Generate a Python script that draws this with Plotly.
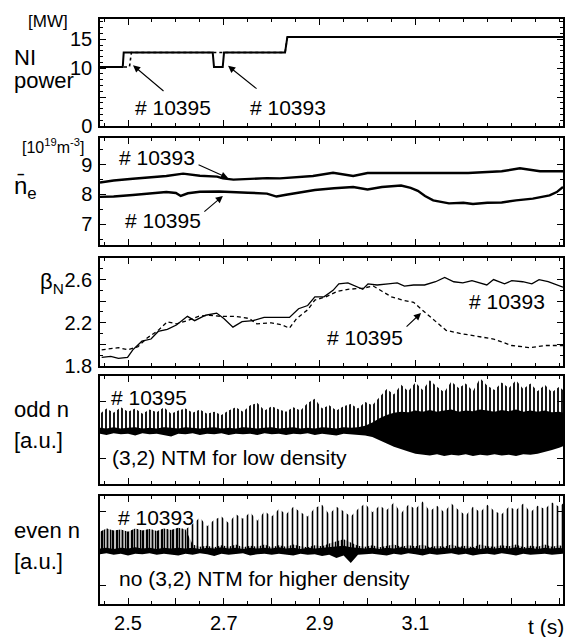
import plotly.graph_objects as go

# ---------------- data ----------------
# NI power [MW]
ni_t_10395 = [2.4415, 2.503, 2.507, 2.8278, 2.8326, 3.408]
ni_p_10395 = [10.2, 10.2, 12.7, 12.7, 15.4, 15.4]
ni_t_10393 = [2.4415, 2.489, 2.491, 2.6768, 2.6795, 2.6977, 2.7004, 2.8278, 2.8326, 3.408]
ni_p_10393 = [10.2, 10.2, 12.7, 12.7, 10.2, 10.2, 12.7, 12.7, 15.4, 15.4]

# line averaged density [1e19 m^-3]
ne_t_10393 = [2.4415, 2.47, 2.51, 2.546, 2.58, 2.615, 2.65, 2.686, 2.698, 2.72, 2.75, 2.79,
              2.817, 2.86, 2.886, 2.928, 2.97, 3.00, 3.07, 3.14, 3.21, 3.28, 3.318, 3.36, 3.408]
ne_v_10393 = [8.40, 8.47, 8.53, 8.58, 8.62, 8.70, 8.63, 8.60, 8.54, 8.50, 8.52, 8.55,
              8.54, 8.60, 8.62, 8.73, 8.62, 8.72, 8.72, 8.71, 8.72, 8.78, 8.88, 8.78, 8.78]
ne_t_10395 = [2.4415, 2.47, 2.51, 2.546, 2.58, 2.60, 2.61, 2.625, 2.65, 2.69, 2.72, 2.75, 2.79,
              2.81, 2.83, 2.86, 2.89, 2.93, 2.97, 3.00, 3.03, 3.07, 3.09, 3.105, 3.12, 3.137,
              3.17, 3.20, 3.22, 3.25, 3.28, 3.31, 3.345, 3.38, 3.395, 3.408]
ne_v_10395 = [7.92, 7.93, 7.98, 8.02, 8.08, 8.05, 7.95, 8.04, 8.09, 8.10, 8.07, 8.06, 8.03,
              7.93, 7.99, 8.08, 8.15, 8.21, 8.25, 8.17, 8.25, 8.30, 8.22, 8.12, 7.95, 7.80,
              7.70, 7.72, 7.68, 7.72, 7.73, 7.80, 7.86, 7.97, 8.08, 8.25]

# beta_N
bn_t_10393 = [2.445, 2.464, 2.48, 2.499, 2.51, 2.529, 2.548, 2.563, 2.582, 2.601, 2.624, 2.639,
              2.662, 2.685, 2.70, 2.719, 2.738, 2.761, 2.784, 2.814, 2.837, 2.856, 2.875, 2.89,
              2.909, 2.928, 2.94, 2.959, 2.974, 2.99, 3.001, 3.02, 3.043, 3.062, 3.077, 3.096,
              3.119, 3.142, 3.161, 3.18, 3.199, 3.218, 3.249, 3.263, 3.286, 3.301, 3.324, 3.343,
              3.358, 3.377, 3.408]
bn_v_10393 = [1.88, 1.89, 1.87, 1.88, 1.95, 2.03, 2.05, 2.12, 2.14, 2.18, 2.26, 2.22,
              2.27, 2.29, 2.24, 2.16, 2.21, 2.22, 2.25, 2.25, 2.25, 2.33, 2.36, 2.44,
              2.44, 2.50, 2.56, 2.57, 2.54, 2.51, 2.56, 2.55, 2.56, 2.57, 2.54, 2.55,
              2.55, 2.58, 2.62, 2.58, 2.57, 2.59, 2.55, 2.60, 2.56, 2.59, 2.58, 2.56,
              2.60, 2.58, 2.53]
bn_t_10395 = [2.445, 2.48, 2.50, 2.521, 2.54, 2.563, 2.582, 2.601, 2.624, 2.647, 2.67, 2.693,
              2.723, 2.753, 2.769, 2.799, 2.822, 2.837, 2.852, 2.875, 2.89, 2.913, 2.936, 2.959,
              2.99, 3.012, 3.031, 3.05, 3.073, 3.096, 3.119, 3.142, 3.164, 3.195, 3.225, 3.263,
              3.301, 3.339, 3.37, 3.408]
bn_v_10395 = [1.95, 1.97, 1.95, 1.98, 2.06, 2.13, 2.21, 2.19, 2.22, 2.26, 2.27, 2.26,
              2.26, 2.24, 2.19, 2.20, 2.18, 2.15, 2.24, 2.32, 2.41, 2.44, 2.49, 2.51,
              2.52, 2.54, 2.49, 2.44, 2.41, 2.39, 2.30, 2.21, 2.13, 2.10, 2.08, 2.05,
              1.99, 1.97, 1.99, 1.99]

# Mirnov signal envelopes on a common time grid
t_grid = [2.4415, 2.455, 2.47, 2.485, 2.50, 2.515, 2.53, 2.545, 2.56, 2.575, 2.59, 2.605,
          2.62, 2.635, 2.65, 2.665, 2.68, 2.695, 2.71, 2.725, 2.74, 2.755, 2.77, 2.785,
          2.80, 2.815, 2.83, 2.845, 2.86, 2.875, 2.89, 2.905, 2.92, 2.935, 2.95, 2.965,
          2.98, 2.995, 3.01, 3.025, 3.04, 3.055, 3.07, 3.085, 3.10, 3.115, 3.13, 3.145,
          3.16, 3.175, 3.19, 3.205, 3.22, 3.235, 3.25, 3.265, 3.28, 3.295, 3.31, 3.325,
          3.34, 3.355, 3.37, 3.385, 3.40, 3.408]
odd_spike_top = [0.30, 0.40, 0.32, 0.42, 0.34, 0.40, 0.30, 0.38, 0.33, 0.42, 0.30, 0.36,
                 0.40, 0.32, 0.38, 0.30, 0.34, 0.28, 0.36, 0.42, 0.34, 0.46, 0.50, 0.36,
                 0.44, 0.38, 0.34, 0.42, 0.36, 0.50, 0.58, 0.40, 0.46, 0.36, 0.44, 0.48,
                 0.40, 0.52, 0.46, 0.62, 0.76, 0.66, 0.84, 0.72, 0.88, 0.74, 0.92, 0.80,
                 0.70, 0.90, 0.78, 0.86, 0.72, 0.96, 0.82, 0.74, 0.88, 0.78, 0.92, 0.76,
                 0.86, 0.72, 0.84, 0.70, 0.80, 0.74]
odd_core_top = [0.04, 0.03, 0.05, 0.03, 0.04, 0.05, 0.03, 0.04, 0.03, 0.05, 0.04, 0.03,
                0.05, 0.04, 0.03, 0.04, 0.05, 0.03, 0.04, 0.03, 0.05, 0.04, 0.03, 0.04,
                0.05, 0.03, 0.04, 0.05, 0.03, 0.04, 0.03, 0.05, 0.04, 0.03, 0.05, 0.04,
                0.05, 0.08, 0.14, 0.22, 0.28, 0.32, 0.34, 0.33, 0.36, 0.34, 0.37, 0.34,
                0.36, 0.38, 0.34, 0.36, 0.35, 0.38, 0.36, 0.34, 0.37, 0.35, 0.38, 0.34,
                0.36, 0.34, 0.36, 0.33, 0.34, 0.32]
odd_core_bot = [-0.07, -0.09, -0.06, -0.08, -0.07, -0.10, -0.06, -0.08, -0.07, -0.09, -0.12, -0.07,
                -0.08, -0.06, -0.09, -0.07, -0.08, -0.06, -0.09, -0.07, -0.08, -0.07, -0.09, -0.06,
                -0.08, -0.07, -0.09, -0.07, -0.08, -0.06, -0.09, -0.07, -0.08, -0.10, -0.07, -0.08,
                -0.09, -0.10, -0.13, -0.19, -0.25, -0.31, -0.36, -0.40, -0.44, -0.46, -0.47, -0.45,
                -0.48, -0.46, -0.47, -0.45, -0.48, -0.46, -0.47, -0.45, -0.47, -0.46, -0.48, -0.45,
                -0.46, -0.44, -0.41, -0.37, -0.33, -0.30]
even_spike_top = [0.34, 0.40, 0.36, 0.38, 0.34, 0.40, 0.36, 0.39, 0.35, 0.40, 0.37, 0.41,
                  0.38, 0.48, 0.60, 0.44, 0.56, 0.62, 0.50, 0.66, 0.58, 0.70, 0.54, 0.72,
                  0.62, 0.76, 0.66, 0.80, 0.70, 0.62, 0.78, 0.84, 0.66, 0.80, 0.72, 0.62,
                  0.76, 0.86, 0.70, 0.82, 0.74, 0.88, 0.68, 0.84, 0.76, 0.90, 0.72, 0.82,
                  0.70, 0.86, 0.74, 0.64, 0.80, 0.70, 0.84, 0.72, 0.66, 0.80, 0.74, 0.86,
                  0.70, 0.82, 0.76, 0.88, 0.80, 0.86]
even_grass_top = [0.34, 0.40, 0.36, 0.38, 0.34, 0.40, 0.36, 0.39, 0.35, 0.40, 0.37, 0.41,
                  0.38, 0.10, 0.06, 0.08, 0.05, 0.09, 0.06, 0.10, 0.05, 0.08, 0.06, 0.10,
                  0.05, 0.09, 0.06, 0.10, 0.07, 0.05, 0.09, 0.07, 0.12, 0.16, 0.20, 0.14,
                  0.08, 0.06, 0.09, 0.05, 0.08, 0.10, 0.06, 0.09, 0.07, 0.10, 0.05, 0.08,
                  0.06, 0.10, 0.06, 0.08, 0.05, 0.10, 0.07, 0.06, 0.09, 0.07, 0.10, 0.05,
                  0.08, 0.06, 0.10, 0.06, 0.09, 0.07]
even_band_top = [0.03, 0.04, 0.02, 0.04, 0.03, 0.05, 0.03, 0.04, 0.02, 0.04, 0.03, 0.04,
                 0.03, 0.04, 0.02, 0.04, 0.03, 0.05, 0.03, 0.04, 0.02, 0.04, 0.03, 0.04,
                 0.03, 0.05, 0.03, 0.04, 0.02, 0.04, 0.03, 0.04, 0.05, 0.06, 0.08, 0.05,
                 0.04, 0.03, 0.04, 0.02, 0.04, 0.03, 0.05, 0.03, 0.04, 0.02, 0.04, 0.03,
                 0.04, 0.03, 0.05, 0.03, 0.04, 0.02, 0.04, 0.03, 0.04, 0.03, 0.05, 0.03,
                 0.04, 0.02, 0.04, 0.03, 0.04, 0.03]
even_band_bot = [-0.08, -0.06, -0.09, -0.07, -0.10, -0.07, -0.08, -0.06, -0.09, -0.07, -0.08, -0.10,
                 -0.07, -0.09, -0.06, -0.08, -0.11, -0.07, -0.09, -0.08, -0.06, -0.10, -0.08, -0.07,
                 -0.09, -0.07, -0.08, -0.10, -0.07, -0.09, -0.08, -0.11, -0.09, -0.15, -0.10, -0.24,
                 -0.09, -0.08, -0.07, -0.08, -0.10, -0.07, -0.09, -0.06, -0.08, -0.10, -0.07, -0.09,
                 -0.08, -0.06, -0.09, -0.07, -0.10, -0.08, -0.07, -0.09, -0.06, -0.08, -0.10, -0.07,
                 -0.09, -0.08, -0.07, -0.09, -0.08, -0.07]

x_tickvals = [2.5, 2.6, 2.7, 2.8, 2.9, 3.0, 3.1, 3.2, 3.3, 3.4]
x_ticktext = ["2.5", "", "2.7", "", "2.9", "", "3.1", "", "", ""]

# ---------------- figure ----------------
FONT = "Liberation Sans, Arial, Helvetica, sans-serif"
W, H = 571, 637
ML, MR, MT, MB = 100, 8, 19, 33
domains = [[0.8171, 1.0], [0.6137, 0.7966], [0.4068, 0.5915], [0.2051, 0.3897], [0.0, 0.1846]]

fig = go.Figure()


def ax(i):
    return ("x" if i == 1 else f"x{i}", "y" if i == 1 else f"y{i}")


def line(i, x, y, width=1.6, dash="solid"):
    xa, ya = ax(i)
    fig.add_trace(go.Scatter(x=x, y=y, mode="lines", xaxis=xa, yaxis=ya,
                             line=dict(color="black", width=width, dash=dash),
                             hoverinfo="skip"))


def band(i, x, top, bot, pattern=None, solid=False):
    xa, ya = ax(i)
    px = list(x) + list(x)[::-1]
    py = list(top) + list(bot)[::-1]
    kw = dict(x=px, y=py, mode="lines", fill="toself", xaxis=xa, yaxis=ya,
              line=dict(width=0, color="rgba(0,0,0,0)"), hoverinfo="skip")
    if solid:
        kw["fillcolor"] = "black"
    else:
        kw["fillcolor"] = "rgba(0,0,0,0)"
        kw["fillpattern"] = dict(shape="|", size=pattern[0], solidity=pattern[1],
                                 fgcolor="black", fgopacity=1, fillmode="overlay")
    fig.add_trace(go.Scatter(**kw))


# panel 1: NI power
line(1, ni_t_10395, ni_p_10395, width=1.6, dash="dot")
line(1, ni_t_10393, ni_p_10393, width=2.0)
# panel 2: density
line(2, ne_t_10393, ne_v_10393, width=2.4)
line(2, ne_t_10395, ne_v_10395, width=2.4)
# panel 3: beta_N
line(3, bn_t_10393, bn_v_10393, width=1.3)
line(3, bn_t_10395, bn_v_10395, width=1.3, dash="4px,3px")
# panel 4: odd n
zero = [0.0] * len(t_grid)
band(4, t_grid, odd_spike_top, zero, pattern=(4, 0.45))
band(4, t_grid, odd_core_top, odd_core_bot, solid=True)
# panel 5: even n
band(5, t_grid, even_spike_top, zero, pattern=(5, 0.32))
band(5, t_grid, even_grass_top, zero, pattern=(3, 0.5))
band(5, t_grid, even_band_top, even_band_bot, solid=True)

tickfont = dict(family=FONT, size=20, color="black")
common_x = dict(range=[2.4415, 3.408], showline=True, linecolor="black", linewidth=1.5,
                mirror="ticks", ticks="inside", ticklen=6, tickwidth=1.2, tickcolor="black",
                tickmode="array", tickvals=x_tickvals, ticktext=x_ticktext,
                minor=dict(tickmode="linear", tick0=2.45, dtick=0.05, ticks="inside",
                           ticklen=3, tickcolor="black", tickwidth=1),
                showgrid=False, zeroline=False, tickfont=tickfont, fixedrange=True,
                automargin=False)
common_y = dict(showline=True, linecolor="black", linewidth=1.5, mirror="ticks",
                ticks="inside", ticklen=6, tickwidth=1.2, tickcolor="black",
                showgrid=False, zeroline=False, tickfont=tickfont, fixedrange=True,
                tickmode="array", ticklabelstandoff=2, automargin=False)

yaxes = [
    dict(range=[0, 18.5], tickvals=[0, 5, 10, 15], ticktext=["0", "", "10", "15"],
         minor=dict(tickmode="linear", tick0=0, dtick=1, ticks="inside", ticklen=3,
                    tickcolor="black")),
    dict(range=[6.3, 9.9], tickvals=[7, 8, 9], ticktext=["7", "8", "9"],
         minor=dict(tickmode="linear", tick0=6.5, dtick=0.5, ticks="inside", ticklen=3,
                    tickcolor="black")),
    dict(range=[1.8, 2.8], tickvals=[1.8, 2.0, 2.2, 2.4, 2.6],
         ticktext=["1.8", "", "2.2", "", "2.6"],
         minor=dict(tickmode="linear", tick0=1.8, dtick=0.1, ticks="inside", ticklen=3,
                    tickcolor="black")),
    dict(range=[-1, 1], tickvals=[-0.52, 0.52], ticktext=["", ""]),
    dict(range=[-1, 1], tickvals=[-0.66, 0.72], ticktext=["", ""]),
]

layout = dict(width=W, height=H, margin=dict(l=ML, r=MR, t=MT, b=MB, autoexpand=False),
              paper_bgcolor="white", plot_bgcolor="white", showlegend=False,
              hovermode=False, font=dict(family=FONT, color="black"))
for i in range(1, 6):
    xa, ya = ax(i)
    xk = "xaxis" if i == 1 else f"xaxis{i}"
    yk = "yaxis" if i == 1 else f"yaxis{i}"
    xd = dict(common_x, domain=[0, 1], anchor=ya, showticklabels=(i == 5))
    if i == 5:
        xd["ticklabelstandoff"] = 0
    if i != 1:
        xd["matches"] = "x"
    layout[xk] = xd
    yd = dict(common_y, domain=domains[i - 1], anchor=xa)
    yd.update(yaxes[i - 1])
    layout[yk] = yd
fig.update_layout(**layout)


def px2paper(px, py):
    return (px - ML) / (W - ML - MR), (H - MB - py) / (H - MT - MB)


ann = []


def label(text, px, py, size=22, xanchor="left"):
    x, y = px2paper(px, py)
    ann.append(dict(text=text, x=x, y=y, xref="paper", yref="paper", xanchor=xanchor,
                    yanchor="middle", showarrow=False,
                    font=dict(family=FONT, size=size, color="black")))


def note(i, text, x, y, xanchor="center", size=21):
    xa, ya = ax(i)
    ann.append(dict(text=text, x=x, y=y, xref=xa, yref=ya, xanchor=xanchor,
                    yanchor="middle", showarrow=False,
                    font=dict(family=FONT, size=size, color="black")))


def arrow(i, x, y, dx, dy):
    xa, ya = ax(i)
    ann.append(dict(text="", x=x, y=y, xref=xa, yref=ya, ax=dx, ay=dy, showarrow=True,
                    arrowhead=2, arrowsize=1.3, arrowwidth=1.1, arrowcolor="black",
                    standoff=0, startstandoff=0))


# left-hand labels
label("[MW]", 48, 22, size=17, xanchor="center")
label("NI", 12, 58)
label("power", 12, 81)
label("[10<sup>19</sup>m<sup>-3</sup>]", 53, 146, size=16, xanchor="center")
label("n\u0304<sub>e</sub>", 12, 188, size=24)
label("\u03b2<sub>N</sub>", 38, 283, size=22)
label("odd n", 12, 409)
label("[a.u.]", 12, 440)
label("even n", 12, 530)
label("[a.u.]", 12, 561)
label("t (s)", 546, 626, size=21, xanchor="center")

# panel notes & arrows
note(1, "# 10395", 2.594, 3.28)
note(1, "# 10393", 2.834, 3.28)
arrow(1, 2.5104, 10.5, 32, 27)
arrow(1, 2.7088, 10.4, 30, 24)
note(2, "# 10393", 2.5605, 9.23)
note(2, "# 10395", 2.573, 7.14)
arrow(2, 2.7088, 8.55, -31, -14)
arrow(2, 2.698, 7.95, -20, 17)
note(3, "# 10393", 3.291, 2.40)
note(3, "# 10395", 2.995, 2.06)
arrow(3, 3.1117, 2.291, -16, 15)
note(4, "# 10395", 2.5438, 0.611)
note(4, "(3,2) NTM for low density", 2.4624, -0.5, xanchor="left")
note(5, "# 10393", 2.558, 0.593)
note(5, "no (3,2) NTM for higher density", 2.477, -0.519, xanchor="left")

fig.update_layout(annotations=ann)
fig.write_html("out.html", config={"displayModeBar": False},
               post_script="document.body.style.margin='0';document.body.style.padding='0';")
